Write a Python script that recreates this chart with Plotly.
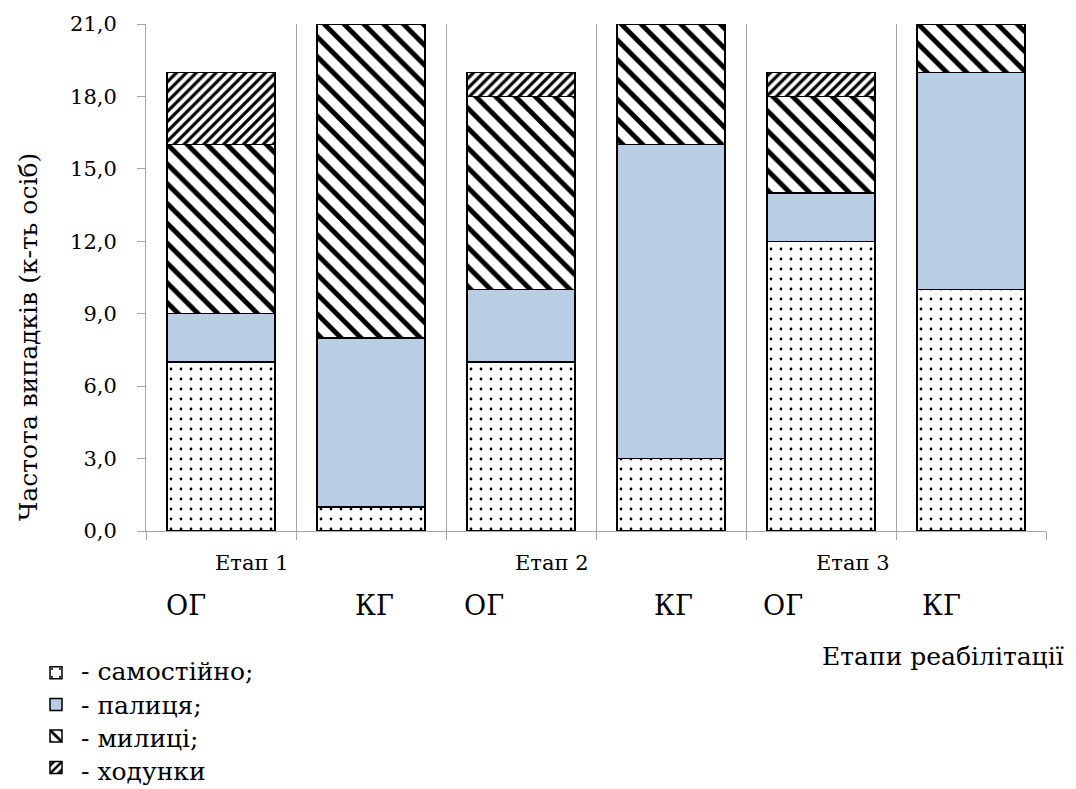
import plotly.graph_objects as go

groups = ["ОГ", "КГ", "ОГ", "КГ", "ОГ", "КГ"]
stages = ["Етап 1", "Етап 2", "Етап 3"]
samostiyno = [7, 1, 7, 3, 12, 10]
palytsia = [2, 7, 3, 13, 2, 9]
mylytsi = [7, 13, 8, 5, 4, 2]
khodunky = [3, 0, 1, 0, 1, 0]
legend_names = ["- самостійно;", "- палиця;", "- милиці;", "- ходунки"]
y_ticks = [0, 3, 6, 9, 12, 15, 18, 21]

FONT = "DejaVu Serif"
xpos = list(range(len(groups)))

fig = go.Figure()
line = dict(color="black", width=1.5)
fig.add_trace(go.Bar(
    x=xpos, y=samostiyno, width=0.72, name=" ",
    marker=dict(color="white", line=line,
                pattern=dict(shape=".", fgcolor="black", bgcolor="white",
                             size=10, solidity=0.06, fillmode="replace")),
))
fig.add_trace(go.Bar(
    x=xpos, y=palytsia, width=0.72, name=" ",
    marker=dict(color="#B9CDE5", line=line),
))
fig.add_trace(go.Bar(
    x=xpos, y=mylytsi, width=0.72, name=" ",
    marker=dict(color="white", line=line,
                pattern=dict(shape="\\", fgcolor="black", bgcolor="white",
                             size=14, solidity=0.35, fillmode="replace")),
))
fig.add_trace(go.Bar(
    x=xpos, y=khodunky, width=0.72, name=" ",
    marker=dict(color="white", line=line,
                pattern=dict(shape="/", fgcolor="black", bgcolor="white",
                             size=7, solidity=0.45, fillmode="replace")),
))

def px_x(px):
    return (px - 146) / 900

def px_y(py):
    return (531 - py) / 507

annotations = []
stage_px = [252, 552, 853]
for s, px in zip(stages, stage_px):
    annotations.append(dict(text=s, xref="paper", yref="paper",
                            x=px_x(px), y=px_y(563),
                            xanchor="center", yanchor="middle", showarrow=False,
                            font=dict(family=FONT, size=21, color="black")))
group_px = [186, 374, 484, 673, 783, 941]
for g, px in zip(groups, group_px):
    annotations.append(dict(text=g, xref="paper", yref="paper",
                            x=px_x(px), y=px_y(605),
                            xanchor="center", yanchor="middle", showarrow=False,
                            font=dict(family=FONT, size=27, color="black")))
annotations.append(dict(text="Етапи реабілітації", xref="paper", yref="paper",
                        x=px_x(1066), y=px_y(656),
                        xanchor="right", yanchor="middle", showarrow=False,
                        font=dict(family=FONT, size=25, color="black")))
annotations.append(dict(text="Частота випадків (к-ть осіб)", xref="paper", yref="paper",
                        x=px_x(28), y=px_y(337), textangle=-90,
                        xanchor="center", yanchor="middle", showarrow=False,
                        font=dict(family=FONT, size=25, color="black")))
leg_y = [672, 705, 738, 771]
for nm, py in zip(legend_names, leg_y):
    annotations.append(dict(text=nm, xref="paper", yref="paper",
                            x=px_x(79), y=px_y(py),
                            xanchor="left", yanchor="middle", showarrow=False,
                            font=dict(family=FONT, size=25, color="black")))

fig.update_layout(
    barmode="stack",
    width=1076, height=789,
    margin=dict(l=146, r=30, t=24, b=258, autoexpand=False),
    paper_bgcolor="white", plot_bgcolor="white",
    separators=", ",
    font=dict(family=FONT, color="black"),
    annotations=annotations,
    showlegend=True,
    legend=dict(x=px_x(36), y=px_y(652), xanchor="left", yanchor="top",
                orientation="v", traceorder="normal",
                font=dict(family=FONT, size=22, color="black"),
                itemclick=False, tracegroupgap=0, bgcolor="rgba(0,0,0,0)"),
    xaxis=dict(range=[-0.5, 5.5], tickvals=[-0.5, 0.5, 1.5, 2.5, 3.5, 4.5, 5.5],
               showticklabels=False, ticks="outside", ticklen=8, tickcolor="#A6A6A6",
               showline=True, linecolor="#A6A6A6", linewidth=1,
               showgrid=True, gridcolor="#A6A6A6", gridwidth=1, zeroline=False,
               automargin=False, fixedrange=True),
    yaxis=dict(range=[0, 21], tickvals=y_ticks, tickformat=".1f",
               ticks="outside", ticklen=8, tickcolor="#A6A6A6",
               showline=True, linecolor="#A6A6A6", linewidth=1,
               showgrid=False, zeroline=False, ticklabelstandoff=16,
               tickfont=dict(family=FONT, size=21, color="black"),
               automargin=False, fixedrange=True),
)

fig.write_html("out.html", config={"displayModeBar": False},
               post_script="document.body.style.margin='0';document.body.style.overflow='hidden';")
